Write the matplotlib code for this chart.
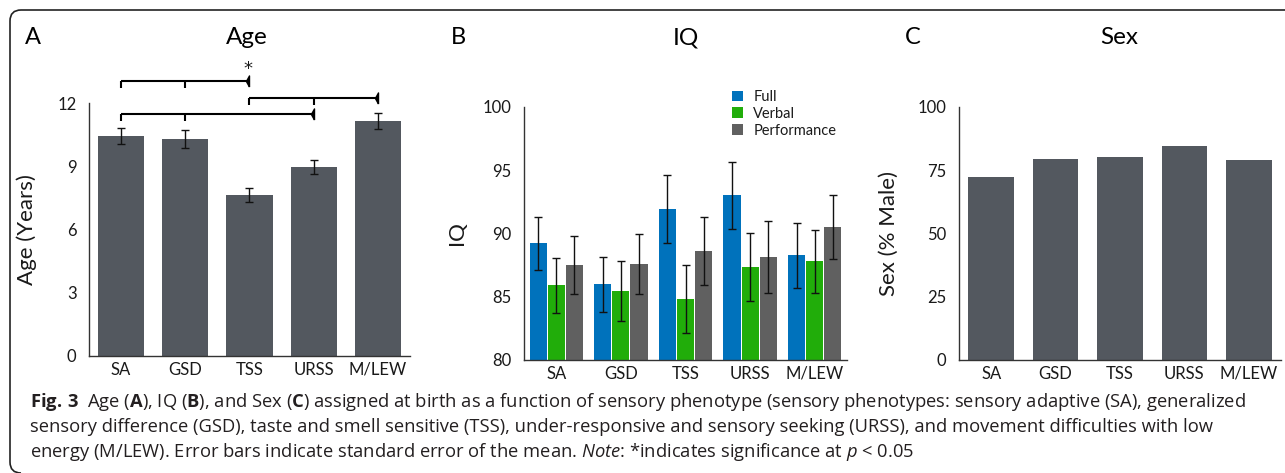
import numpy as np
import matplotlib.pyplot as plt
from matplotlib.path import Path
from matplotlib.patches import PathPatch

plt.rcParams['font.family'] = ['Lato', 'DejaVu Sans']
plt.rcParams['mathtext.fontset'] = 'custom'
plt.rcParams['mathtext.rm'] = 'Open Sans'
plt.rcParams['mathtext.bf'] = 'Open Sans:bold'
plt.rcParams['mathtext.it'] = 'Open Sans:italic'

groups = ['SA', 'GSD', 'TSS', 'URSS', 'M/LEW']

# A: age (years), mean and SEM
age_mean = [10.43, 10.28, 7.64, 8.96, 11.15]
age_sem = [0.37, 0.42, 0.33, 0.32, 0.38]

# B: IQ, mean and SEM per subscale
iq_full = [89.2, 85.97, 91.9, 93.0, 88.26]
iq_full_sem = [2.13, 2.2, 2.7, 2.65, 2.57]
iq_verbal = [85.9, 85.45, 84.8, 87.34, 87.8]
iq_verbal_sem = [2.18, 2.34, 2.68, 2.66, 2.5]
iq_perf = [87.47, 87.58, 88.6, 88.13, 90.5]
iq_perf_sem = [2.29, 2.34, 2.7, 2.86, 2.53]

# C: sex (% male)
pct_male = [72.2, 79.3, 80.1, 84.5, 78.9]

# significance brackets in A: (tick positions, arrow end, height)
brackets = [([0, 1], 2, 13.05), ([2, 3], 4, 12.25), ([0, 1], 3, 11.48)]

bar_gray = '#53585f'
c_full, c_verbal, c_perf = '#0072bc', '#21ad0a', '#606060'
txt = '#1a1a1a'

W, H = 1285, 473
fig = plt.figure(figsize=(W / 100, H / 100), dpi=100)

# outer rounded frame (only top and left edges are visible)
bg = fig.add_axes([0, 0, 1, 1], zorder=-1)
bg.set_xlim(0, W)
bg.set_ylim(H, 0)
bg.axis('off')
r = 11
verts = [(W + 5, 10), (10 + r, 10), (10, 10), (10, 10 + r),
         (10, H - r), (10, H), (10 + r, H)]
codes = [Path.MOVETO, Path.LINETO, Path.CURVE3, Path.CURVE3,
         Path.LINETO, Path.CURVE3, Path.CURVE3]
bg.add_patch(PathPatch(Path(verts, codes), fill=False, lw=1.2, ec='#222222'))


def px_axes(x0, x1, ytop, ybot):
    return fig.add_axes([x0 / W, 1 - ybot / H, (x1 - x0) / W, (ybot - ytop) / H])


def style(ax):
    for s in ['top', 'right']:
        ax.spines[s].set_visible(False)
    for s in ['left', 'bottom']:
        ax.spines[s].set_color('#333333')
        ax.spines[s].set_linewidth(1.0)
    ax.tick_params(axis='both', length=0, labelsize=12, colors=txt)
    ax.tick_params(axis='y', pad=9)
    ax.tick_params(axis='x', pad=4)


x = np.arange(len(groups))
ekw = dict(ecolor='#111111', elinewidth=1, capsize=3, capthick=1)

# Panel A
axA = px_axes(89, 410, 103, 356)
axA.bar(x, age_mean, width=0.72, color=bar_gray, yerr=age_sem, error_kw=ekw)
axA.set_xlim(-0.5, 4.5)
axA.set_ylim(0, 12)
axA.set_yticks([0, 3, 6, 9, 12])
axA.set_xticks(x, groups)
style(axA)
axA.set_ylabel('Age (Years)', fontsize=16, color=txt)
axA.yaxis.set_label_coords(-0.162, 0.5)
tri = [(0, -1), (0, 1), (-0.55, 0), (0, -1)]
for ticks, end, yb in brackets:
    axA.plot([ticks[0], end], [yb, yb], color='black', lw=1.5, clip_on=False,
             solid_capstyle='butt')
    for t in ticks:
        axA.plot([t, t], [yb, yb - 0.33], color='black', lw=1.5, clip_on=False,
                 solid_capstyle='butt')
    axA.plot([end], [yb], marker=tri, ms=8, color='black', clip_on=False)
axA.text(1.98, 13.6, '*', ha='center', va='center', fontsize=13, color=txt,
         family='DejaVu Sans')

# Panel B
axB = px_axes(524, 847, 106.7, 360)
bw, off = 0.264, 0.28
axB.bar(x - off, iq_full, width=bw, color=c_full, yerr=iq_full_sem,
        error_kw=ekw, label='Full')
axB.bar(x, iq_verbal, width=bw, color=c_verbal, yerr=iq_verbal_sem,
        error_kw=ekw, label='Verbal')
axB.bar(x + off, iq_perf, width=bw, color=c_perf, yerr=iq_perf_sem,
        error_kw=ekw, label='Performance')
axB.set_xlim(-0.5, 4.5)
axB.set_ylim(80, 100)
axB.set_yticks([80, 85, 90, 95, 100])
axB.set_xticks(x, groups)
style(axB)
axB.set_ylabel('IQ', fontsize=16, color=txt)
axB.yaxis.set_label_coords(-0.178, 0.5)
axB.legend(loc='upper left', bbox_to_anchor=(732 / W, 1 - 90 / H),
           bbox_transform=fig.transFigure, frameon=False, fontsize=10.5,
           handlelength=0.75, handleheight=0.75, handletextpad=0.7,
           labelspacing=0.2, borderpad=0, borderaxespad=0, labelcolor=txt)

# Panel C
axC = px_axes(959, 1281, 106.7, 360)
axC.bar(x, pct_male, width=0.71, color=bar_gray)
axC.set_xlim(-0.5, 4.5)
axC.set_ylim(0, 100)
axC.set_yticks([0, 25, 50, 75, 100])
axC.set_xticks(x, groups)
style(axC)
axC.set_ylabel('Sex (% Male)', fontsize=16, color=txt)
axC.yaxis.set_label_coords(-0.186, 0.5)

# panel letters and titles
for letter, lx, title, tx in [('A', 33, 'Age', 247), ('B', 458, 'IQ', 686),
                              ('C', 913, 'Sex', 1119)]:
    fig.text(lx / W, 1 - 38 / H, letter, fontsize=17, ha='center', va='center', color='black')
    fig.text(tx / W, 1 - 38 / H, title, fontsize=17.5, ha='center', va='center', color='black')

# caption
cap = [
    r'$\mathbf{Fig.\,3}$  Age ($\mathbf{A}$), IQ ($\mathbf{B}$), and Sex ($\mathbf{C}$) assigned at birth '
    r'as a function of sensory phenotype (sensory phenotypes: sensory adaptive (SA), generalized',
    'sensory difference (GSD), taste and smell sensitive (TSS), under-responsive and sensory '
    'seeking (URSS), and movement difficulties with low',
    r'energy (M/LEW). Error bars indicate standard error of the mean. $\mathit{Note}$: '
    r'*indicates significance at $\mathit{p}$ < 0.05',
]
for i, line in enumerate(cap):
    fig.text(30 / W, 1 - (407 + 25 * i) / H, line, fontsize=13.2, ha='left',
             va='baseline', color='#231f20', family=['Open Sans', 'DejaVu Sans'])

fig.savefig('out.png', dpi=100)
